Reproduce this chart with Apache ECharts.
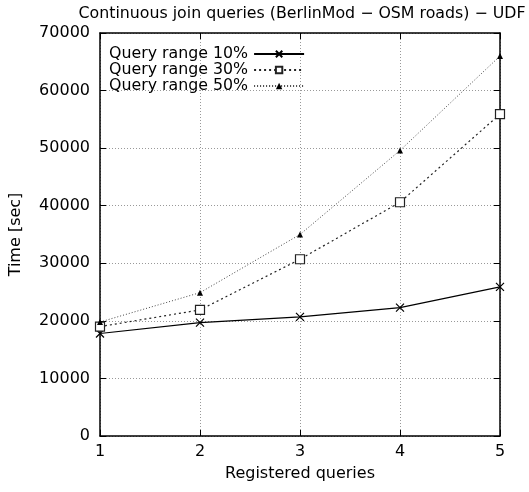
<!DOCTYPE html>
<html><head><meta charset="utf-8">
<script src="https://cdn.jsdelivr.net/npm/echarts@6/dist/echarts.min.js"></script>
<style>html,body{margin:0;padding:0;background:#fff}#c{width:529px;height:492px}</style>
</head><body><div id="c"></div>
<script>
var titleText = 'Continuous join queries (BerlinMod \u2212 OSM roads) \u2212 UDF';
var xName = 'Registered queries';
var yName = 'Time [sec]';
var queries = [1, 2, 3, 4, 5];
var seriesNames = ['Query range 10%', 'Query range 30%', 'Query range 50%'];
var range10 = [17800, 19700, 20700, 22300, 25900];
var range30 = [19000, 21900, 30700, 40600, 55900];
var range50 = [19800, 24900, 35000, 49600, 66000];

var font = 'DejaVu Sans';
var crossPath = 'path://M0,0L10,10M10,0L0,10';
var squarePath = 'path://M0,0L10,0L10,10L0,10Z';
function pairs(v){ return queries.map(function(q,i){return [q, v[i]];}); }

var chart = echarts.init(document.getElementById('c'));
var gridLine = {show:true, lineStyle:{color:'#999', type:[1,2], width:1}};
chart.setOption({
  animation:false,
  title:{text:titleText, left:297, textAlign:'center', top:1, textStyle:{fontFamily:font, fontSize:15.8, fontWeight:'normal', color:'#000'}},
  legend:{
    orient:'vertical', left:104, top:41, align:'right', itemGap:0, itemWidth:50, itemHeight:8,
    textStyle:{fontFamily:font, fontSize:15.8, lineHeight:16, color:'#000', padding:[0,1,0,0]},
    data:seriesNames
  },
  grid:{left:98, right:29, top:33, bottom:56, containLabel:false},
  xAxis:[{
    type:'value', min:1, max:5, interval:1, name:xName, nameLocation:'middle', nameGap:30,
    nameTextStyle:{fontFamily:font, fontSize:16, color:'#000'},
    axisLine:{show:true, onZero:false, lineStyle:{color:'#000', width:1.5}},
    axisTick:{show:true, inside:true, length:6, lineStyle:{color:'#000'}},
    axisLabel:{fontFamily:font, fontSize:16, color:'#000', margin:8},
    splitLine:gridLine
  },{
    type:'value', position:'top', min:1, max:5, interval:1,
    axisLine:{show:true, onZero:false, lineStyle:{color:'#000', width:1.5}},
    axisTick:{show:true, inside:true, length:6, lineStyle:{color:'#000'}},
    axisLabel:{show:false}, splitLine:{show:false}
  }],
  yAxis:[{
    type:'value', min:0, max:70000, interval:10000, name:yName, nameLocation:'middle', nameGap:76, nameRotate:90,
    nameTextStyle:{fontFamily:font, fontSize:16, color:'#000'},
    axisLine:{show:true, onZero:false, lineStyle:{color:'#000', width:1.5}},
    axisTick:{show:true, inside:true, length:6, lineStyle:{color:'#000'}},
    axisLabel:{fontFamily:font, fontSize:16, color:'#000', margin:10, formatter:function(v){return String(v);}},
    splitLine:gridLine
  },{
    type:'value', position:'right', min:0, max:70000, interval:10000,
    axisLine:{show:true, onZero:false, lineStyle:{color:'#000', width:1.5}},
    axisTick:{show:true, inside:true, length:6, lineStyle:{color:'#000'}},
    axisLabel:{show:false}, splitLine:{show:false}
  }],
  series:[
    {name:seriesNames[0], type:'line', data:pairs(range10), symbol:crossPath, symbolSize:8,
     lineStyle:{color:'#000', width:1.2, type:'solid'},
     itemStyle:{color:'none', borderColor:'#000', borderWidth:1.2}},
    {name:seriesNames[1], type:'line', data:pairs(range30), symbol:squarePath, symbolSize:9,
     lineStyle:{color:'#222', width:1.2, type:[2,3]},
     itemStyle:{color:'#fff', borderColor:'#222', borderWidth:1.2}},
    {name:seriesNames[2], type:'line', data:pairs(range50), symbol:'triangle', symbolSize:6,
     lineStyle:{color:'#444', width:1, type:[1,2]},
     itemStyle:{color:'#000', borderColor:'#000', borderWidth:0}}
  ]
});
</script></body></html>
